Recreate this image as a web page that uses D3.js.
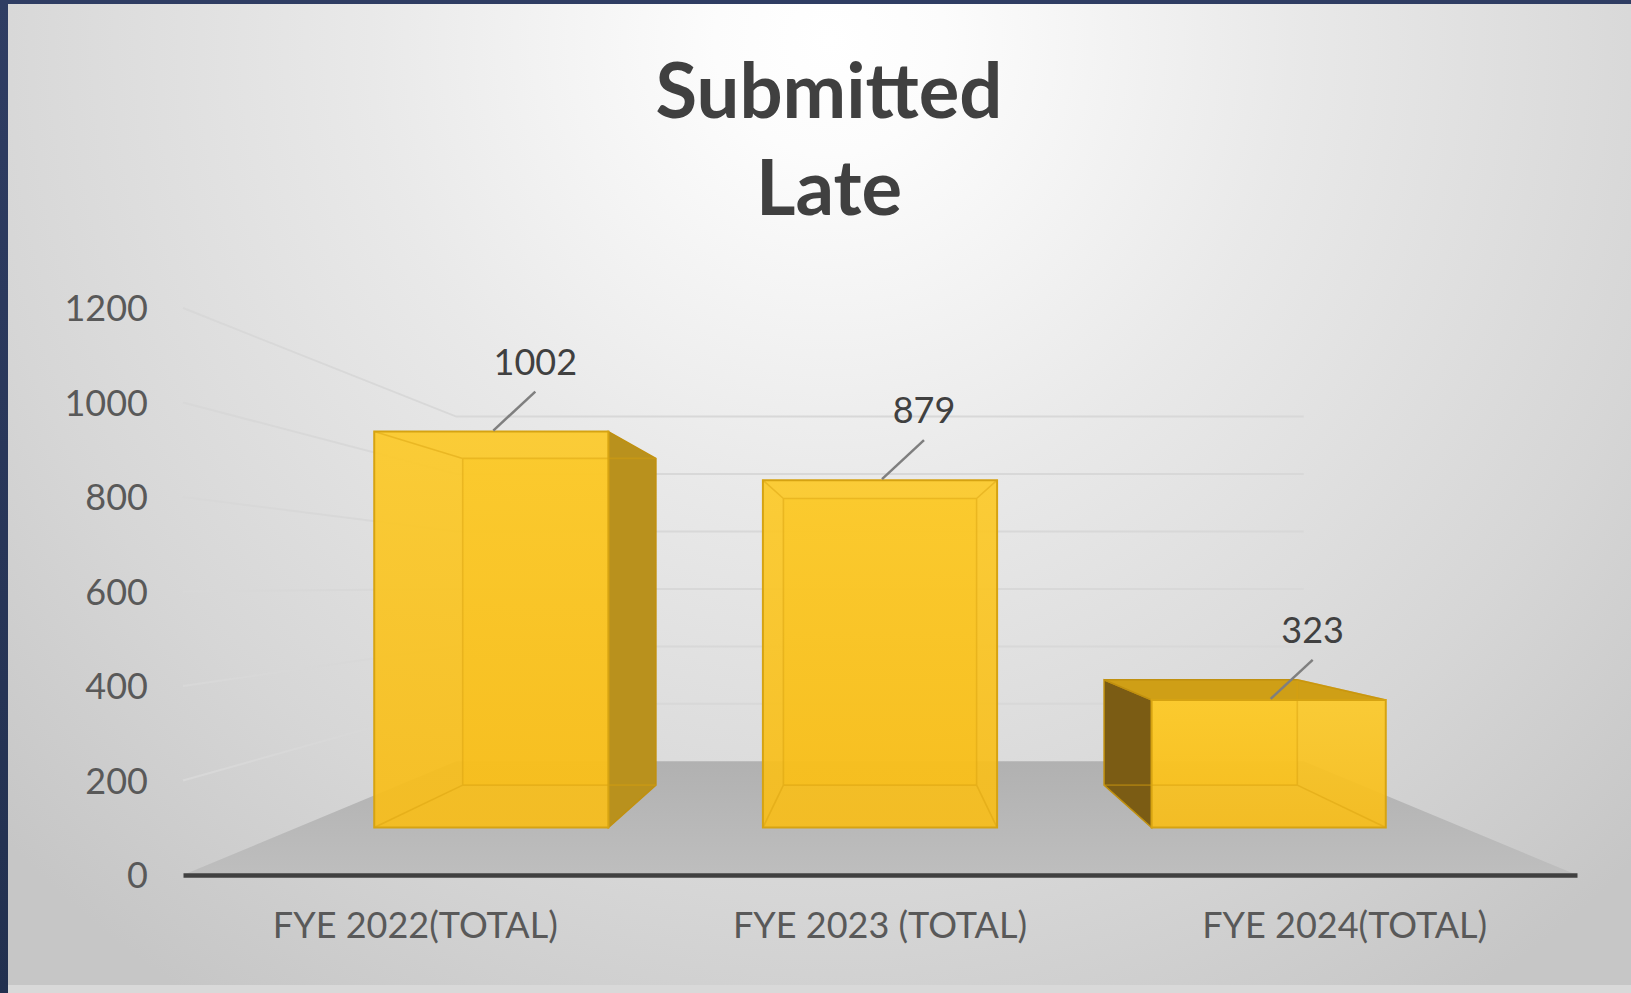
<!DOCTYPE html>
<html><head><meta charset="utf-8">
<script src="https://cdn.jsdelivr.net/npm/d3@7"></script>
<style>html,body{margin:0;padding:0;overflow:hidden;background:#2b3a5e}</style>
</head><body>
<svg id="chart" width="1631" height="993"></svg>
<script>
const categories = ["FYE 2022(TOTAL)", "FYE 2023 (TOTAL)", "FYE 2024(TOTAL)"];
const values = [1002, 879, 323];
const yTicks = [0, 200, 400, 600, 800, 1000, 1200];
const titleLines = ["Submitted", "Late"];

const W = 1631, H = 993;
const svg = d3.select("#chart");
const defs = svg.append("defs");

// perspective parameters
const VPx = 880, VPy = 585;
const dFront = 0.1955, dBackBar = 0.449, dWall = 0.645;
const P = (x, y, d) => [VPx + (x - VPx) / (1 + d), VPy + (y - VPy) / (1 + d)];

const xScale = d3.scaleBand().domain(categories).range([183, 1577]).paddingInner(0.3975).paddingOuter(0.19875);
const yScale = d3.scaleLinear().domain([0, 1200]).range([875, 308]);

// gradients
const bg = defs.append("radialGradient").attr("id", "bg").attr("gradientUnits", "userSpaceOnUse")
  .attr("cx", 830).attr("cy", 40).attr("r", 1150);
[[0, "#ffffff"], [0.1, "#fcfcfc"], [0.4, "#e9e9e9"], [0.75, "#d6d6d6"], [1, "#c6c6c6"]]
  .forEach(([o, c]) => bg.append("stop").attr("offset", o).attr("stop-color", c));
const frame = defs.append("linearGradient").attr("id", "frame").attr("x1", 0).attr("y1", 0).attr("x2", 0).attr("y2", 1);
frame.append("stop").attr("offset", 0).attr("stop-color", "#2f3d63");
frame.append("stop").attr("offset", 1).attr("stop-color", "#22304f");
const floorG = defs.append("linearGradient").attr("id", "floorG").attr("x1", 0).attr("y1", 0).attr("x2", 0).attr("y2", 1);
floorG.append("stop").attr("offset", 0).attr("stop-color", "#b1b1b1");
floorG.append("stop").attr("offset", 1).attr("stop-color", "#bebebe");
const frontG = defs.append("linearGradient").attr("id", "frontG").attr("x1", 0).attr("y1", 0).attr("x2", 0).attr("y2", 1);
frontG.append("stop").attr("offset", 0).attr("stop-color", "#fcca2a");
frontG.append("stop").attr("offset", 1).attr("stop-color", "#f7bd1a");

// frame + background
svg.append("rect").attr("width", W).attr("height", H).attr("fill", "url(#frame)");
svg.append("rect").attr("x", 8).attr("y", 4).attr("width", W - 8).attr("height", 981).attr("fill", "url(#bg)");
svg.append("rect").attr("x", 8).attr("y", 985).attr("width", W - 8).attr("height", 8).attr("fill", "#d9d9d9");

// title
svg.append("g").selectAll("text").data(titleLines).join("text")
  .attr("x", 829).attr("y", (d, i) => 118 + i * 97)
  .attr("text-anchor", "middle").attr("font-family", "Lato").attr("font-weight", "bold")
  .attr("font-size", 76).attr("fill", "#404040").text(d => d);

const xL = xScale.range()[0], xR = xScale.range()[1];
const line = d3.line();

// gridlines: left wall + back wall
const grid = svg.append("g").attr("fill", "none").attr("stroke", "#d8d8d8").attr("stroke-width", 2);
grid.selectAll("path").data(yTicks.filter(v => v > 0)).join("path")
  .attr("d", v => line([[xL, yScale(v)], P(xL, yScale(v), dWall), P(xR, yScale(v), dWall)]));

// floor
svg.append("path")
  .attr("d", line([[xL, yScale(0)], [xR, yScale(0)], P(xR, yScale(0), dWall), P(xL, yScale(0), dWall)]) + "Z")
  .attr("fill", "url(#floorG)");

// bars
const bars = categories.map((c, i) => {
  const x0 = xScale(c), x1 = x0 + xScale.bandwidth();
  const yT = yScale(values[i]), yB = yScale(0);
  return {
    c, v: values[i], x0, x1, yT, yB,
    FTL: P(x0, yT, dFront), FTR: P(x1, yT, dFront), FBR: P(x1, yB, dFront), FBL: P(x0, yB, dFront),
    BTL: P(x0, yT, dBackBar), BTR: P(x1, yT, dBackBar), BBR: P(x1, yB, dBackBar), BBL: P(x0, yB, dBackBar)
  };
});

const poly = pts => line(pts) + "Z";
const gBars = svg.append("g");
bars.forEach(b => {
  const g = gBars.append("g");
  g.append("path").attr("d", poly([b.BTL, b.BTR, b.BBR, b.BBL])).attr("fill", "#f5bf1c").attr("opacity", 0.6);
  if (b.x0 > VPx) g.append("path").attr("d", poly([b.FTL, b.BTL, b.BBL, b.FBL]))
    .attr("fill", "#7b5c14").attr("stroke", "#c0900f").attr("stroke-width", 1.5);
  if (b.x1 < VPx) g.append("path").attr("d", poly([b.FTR, b.BTR, b.BBR, b.FBR]))
    .attr("fill", "#b9911d").attr("stroke", "#c0900f").attr("stroke-width", 1.5);
  if (b.yT > VPy) g.append("path").attr("d", poly([b.FTL, b.FTR, b.BTR, b.BTL]))
    .attr("fill", "#cf9f16").attr("stroke", "#c0900f").attr("stroke-width", 1.5);
  g.append("path").attr("d", poly([b.FTL, b.FTR, b.FBR, b.FBL]))
    .attr("fill", "url(#frontG)").attr("fill-opacity", 0.93);
  const inner = [];
  if (!(b.x0 > VPx)) inner.push([b.FTL, b.BTL], [b.BTL, b.BBL], [b.FBL, b.BBL]);
  if (!(b.x1 < VPx)) inner.push([b.FTR, b.BTR], [b.BTR, b.BBR], [b.FBR, b.BBR]);
  inner.push([b.BBL, b.BBR]);
  if (!(b.yT > VPy)) inner.push([b.BTL, b.BTR]);
  g.append("path").attr("d", inner.map(s => line(s)).join(""))
    .attr("fill", "none").attr("stroke", "#d89f0e").attr("stroke-width", 1.6).attr("opacity", 0.45);
  g.append("path").attr("d", poly([b.FTL, b.FTR, b.FBR, b.FBL]))
    .attr("fill", "none").attr("stroke", "#d6a312").attr("stroke-width", 2);
});

// axes
const yAxis = d3.axisLeft(yScale).tickValues(yTicks).tickFormat(d3.format("d")).tickSize(0).tickPadding(35);
const gy = svg.append("g").attr("transform", `translate(${xL},0)`).call(yAxis);
gy.select(".domain").remove();
gy.selectAll("text").attr("font-family", "Lato").attr("font-size", 36).attr("fill", "#595959").attr("dy", "0.36em");

const xAxis = d3.axisBottom(xScale).tickSize(0).tickSizeOuter(0).tickPadding(37);
const gx = svg.append("g").attr("transform", `translate(0,${yScale(0)})`).call(xAxis);
gx.select(".domain").attr("stroke", "#404040").attr("stroke-width", 4.5);
gx.selectAll("text").attr("font-family", "Lato").attr("font-size", 36).attr("fill", "#595959");

// data labels with leader lines
const gl = svg.append("g");
bars.forEach(b => {
  const cx = (b.FTL[0] + b.FTR[0]) / 2, ty = b.FTL[1];
  gl.append("path").attr("d", line([[cx + 44, ty - 40], [cx + 2, ty - 1]]))
    .attr("stroke", "#7f7f7f").attr("stroke-width", 2.5).attr("fill", "none");
  gl.append("text").attr("x", cx + 44).attr("y", ty - 57).attr("text-anchor", "middle")
    .attr("font-family", "Lato").attr("font-size", 36).attr("fill", "#404040").text(b.v);
});
</script>
</body></html>
